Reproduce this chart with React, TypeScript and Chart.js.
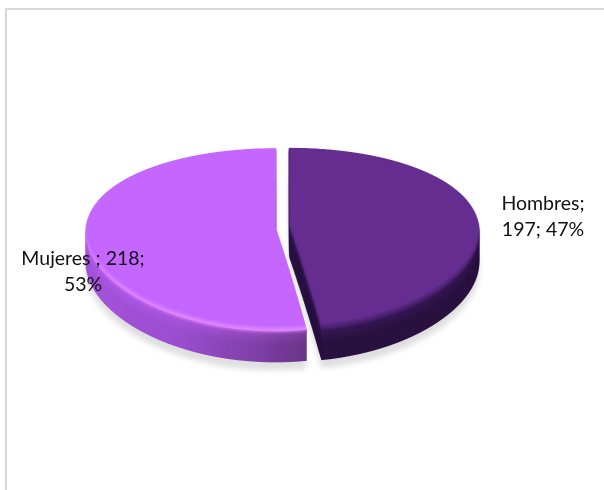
import React, { useEffect, useRef } from "react";
import { Chart, registerables } from "chart.js";

Chart.register(...registerables);

const categories = ["Hombres", "Mujeres "];
const values = [197, 218];
const labelLines = [
  ["Hombres;", "197; 47%"],
  ["Mujeres ; 218;", "53%"],
];
const topColors = ["#662d91", "#c466ff"];
const rimColors = ["#4a2070", "#e084ff"];

const W = 604;
const H = 490;
const SS = 2;
const centerX = 282.5;
const apexY = 227;
const explode = 7;
const depth = 31;
const persp = 0.1366;
const perspX = 0.05;
const halfDepthY = 89.8;
const halfWidthX = 189.5;
const labelPos = [
  { x: 543, y: 203.5 },
  { x: 83, y: 258.5 },
];
const lineGap = 26;

function mk(): [HTMLCanvasElement, CanvasRenderingContext2D] {
  const c = document.createElement("canvas");
  c.width = W * SS;
  c.height = H * SS;
  return [c, c.getContext("2d")!];
}

function tint(img: HTMLCanvasElement, paint: (g: CanvasRenderingContext2D) => void) {
  const [c, g] = mk();
  g.drawImage(img, 0, 0);
  g.globalCompositeOperation = "source-atop";
  paint(g);
  return c;
}

function hGrad(g: CanvasRenderingContext2D, stops: [number, string][]) {
  const grad = g.createLinearGradient(85 * SS, 0, 322 * SS, 0);
  stops.forEach(([p, c]) => grad.addColorStop(p, c));
  g.fillStyle = grad;
  g.fillRect(0, 0, W * SS, H * SS);
}

const wallStops: [number, string][][] = [
  [[0, "#2a1240"], [1, "#2a1240"]],
  [[0, "#a653dc"], [0.4, "#9c4ecf"], [0.72, "#7f40a8"], [0.93, "#6a3586"], [1, "#6a3586"]],
];
const wallUpperStops: [number, string][][] = [
  [[0, "#3a1a58"], [1, "#3a1a58"]],
  [[0, "#b860f0"], [0.4, "#ae58e4"], [0.72, "#9a4ec6"], [0.93, "#8644a8"], [1, "#8644a8"]],
];

const pie3d = {
  id: "pie3d",
  beforeDatasetsDraw(chart: any) {
    const arcs = chart.getDatasetMeta(0).data;
    const [scene, sg] = mk();
    const warped: HTMLCanvasElement[] = [];

    arcs.forEach((el: any) => {
      const R = el.outerRadius;
      const S = halfWidthX / R;
      const mid = (el.startAngle + el.endAngle) / 2;
      const [flat, fg] = mk();
      fg.scale(SS, SS);
      fg.translate((Math.cos(mid) * explode) / S, (Math.sin(mid) * explode) / S);
      el.draw(fg);

      const [dst, dg] = mk();
      dg.imageSmoothingQuality = "high";
      const tOf = (y: number) => {
        const q = (y - apexY) / halfDepthY;
        return q / (1 + persp * q);
      };
      for (let j = 0; j < H * SS; j++) {
        const y0 = j / SS;
        const t0 = tOf(y0);
        const t1 = tOf(y0 + 1 / SS);
        if (t1 < -1.02 || t0 > 1.02) continue;
        const s = S / (1 - perspX * (t0 + t1) * 0.5);
        const sy0 = (el.y + t0 * R) * SS;
        const sy1 = (el.y + t1 * R) * SS;
        const dx = (centerX - el.x * s) * SS;
        dg.drawImage(flat, 0, sy0, W * SS, sy1 - sy0, dx, j, W * SS * s, 1);
      }
      warped.push(dst);
    });

    // ground shadow
    const [sh, shg] = mk();
    warped.forEach((w) => {
      for (const d of [depth + 3, depth + 6, depth + 8]) shg.drawImage(w, 0, d * SS);
    });
    const shTint = tint(sh, (g) => {
      g.fillStyle = "#dfdfdf";
      g.fillRect(0, 0, W * SS, H * SS);
    });
    sg.save();
    sg.filter = `blur(${3 * SS}px)`;
    sg.drawImage(shTint, 0, 0);
    sg.restore();

    // side walls, then the top faces
    warped.forEach((w, i) => {
      const wall = tint(w, (g) => hGrad(g, wallStops[i]));
      const wallUp = tint(w, (g) => hGrad(g, wallUpperStops[i]));
      const fade = 14 * SS;
      for (let d = depth * SS; d >= 1; d--) {
        sg.globalAlpha = 1;
        sg.drawImage(wall, 0, d);
        if (d < fade) {
          sg.globalAlpha = 1 - d / fade;
          sg.drawImage(wallUp, 0, d);
        }
      }
      sg.globalAlpha = 1;

      const rim = tint(w, (g) => {
        g.fillStyle = rimColors[i];
        g.fillRect(0, 0, W * SS, H * SS);
      });
      const base = tint(w, (g) => {
        g.fillStyle = topColors[i];
        g.fillRect(0, 0, W * SS, H * SS);
      });
      const face = tint(rim, (g) => {
        g.filter = `blur(${1.8 * SS}px)`;
        g.drawImage(base, 0, -4 * SS);
        g.drawImage(base, 0, -6 * SS);
      });
      sg.save();
      sg.filter = `blur(${1 * SS}px)`;
      sg.globalAlpha = 0.55;
      sg.drawImage(rim, 0, 1.5 * SS);
      sg.restore();
      sg.drawImage(face, 0, 0);
    });

    const ctx = chart.ctx;
    ctx.save();
    ctx.imageSmoothingQuality = "high";
    ctx.drawImage(scene, 0, 0, W, H);
    ctx.restore();
    return false;
  },
  afterDraw(chart: any) {
    const ctx = chart.ctx;
    ctx.save();
    ctx.fillStyle = "#111111";
    ctx.font = '19.5px Lato, "Open Sans", sans-serif';
    ctx.textAlign = "center";
    ctx.textBaseline = "middle";
    labelLines.forEach((lines, i) => {
      lines.forEach((line, k) => {
        ctx.fillText(line, labelPos[i].x, labelPos[i].y + k * lineGap);
      });
    });
    ctx.restore();
  },
};

export default function App() {
  const ref = useRef<HTMLCanvasElement>(null);
  useEffect(() => {
    const chart = new Chart(ref.current!, {
      type: "pie",
      data: {
        labels: categories,
        datasets: [{ data: values, backgroundColor: topColors, borderWidth: 0 }],
      },
      options: {
        animation: false,
        responsive: false,
        devicePixelRatio: 1,
        layout: { padding: 12 },
        plugins: { legend: { display: false }, tooltip: { enabled: false } },
      },
      plugins: [pie3d],
    } as any);
    return () => chart.destroy();
  }, []);
  return (
    <div style={{ position: "absolute", left: 0, top: 0, width: W, height: H, overflow: "hidden", background: "#fff" }}>
      <div
        style={{
          position: "absolute",
          left: 5,
          top: 8,
          right: -4,
          bottom: -4,
          borderLeft: "2px solid #d9d9d9",
          borderTop: "2px solid #d9d9d9",
        }}
      />
      <canvas ref={ref} width={W} height={H} style={{ position: "absolute", left: 0, top: 0, display: "block" }} />
    </div>
  );
}
